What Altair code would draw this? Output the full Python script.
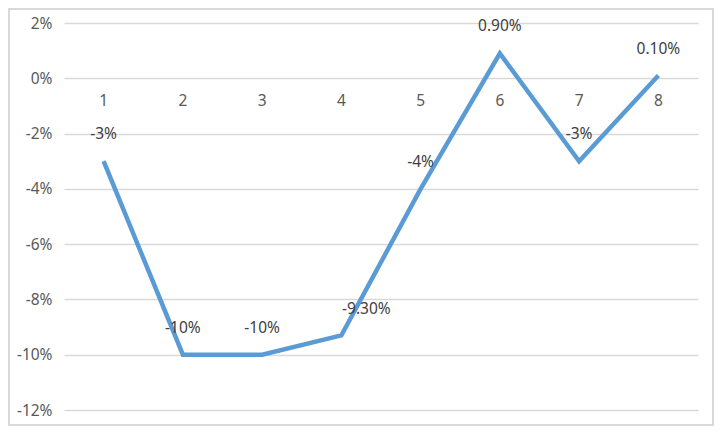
import altair as alt
import pandas as pd

categories = ["1", "2", "3", "4", "5", "6", "7", "8"]
values = [-3.0, -10.0, -10.0, -9.3, -4.0, 0.9, -3.0, 0.1]
labels = ["-3%", "-10%", "-10%", "-9.30%", "-4%", "0.90%", "-3%", "0.10%"]
y_ticks = [-12, -10, -8, -6, -4, -2, 0, 2]

df = pd.DataFrame({"cat": categories, "val": values, "lab": labels, "zero": [0] * len(categories)})

FONT = "Noto Sans"
FS = 15.5
W, H = 634, 387

x_enc = alt.X("cat:N", sort=categories, axis=None, scale=alt.Scale(paddingInner=0, paddingOuter=0, align=0.5))
y_scale = alt.Scale(domain=[-12, 2], nice=False, zero=False)
y_axis = alt.Axis(values=y_ticks, labelExpr="datum.value + '%'", domain=False, ticks=False,
                  grid=True, gridColor="#D9D9D9", gridWidth=1.5, labelPadding=12,
                  labelFont=FONT, labelFontSize=FS, labelColor="#595959", title=None)

base = alt.Chart(df)

line = base.mark_line(color="#5B9BD5", strokeWidth=4.5, strokeJoin="miter").encode(
    x=x_enc,
    y=alt.Y("val:Q", scale=y_scale, axis=y_axis),
)

cat_labels = base.mark_text(font=FONT, fontSize=FS, color="#595959", dy=23).encode(
    x=x_enc, y=alt.Y("zero:Q", scale=y_scale, axis=y_axis), text="cat:N"
)

data_labels = base.transform_filter("datum.cat != '4'").mark_text(
    font=FONT, fontSize=FS, color="#404040", dy=-27
).encode(x=x_enc, y=alt.Y("val:Q", scale=y_scale, axis=y_axis), text="lab:N")

data_label4 = base.transform_filter("datum.cat == '4'").mark_text(
    font=FONT, fontSize=FS, color="#404040", dy=-26, dx=25
).encode(x=x_enc, y=alt.Y("val:Q", scale=y_scale, axis=y_axis), text="lab:N")

border = alt.Chart(pd.DataFrame({"a": [0]})).mark_rect(
    fill="transparent", stroke="#D9D9D9", strokeWidth=2
).encode(x=alt.value(-55), x2=alt.value(W + 15), y=alt.value(-14), y2=alt.value(H + 15))

chart = alt.layer(line, cat_labels, data_labels, data_label4, border).properties(
    width=W, height=H, autosize=alt.AutoSizeParams(type="none"),
    padding={"left": 56, "top": 15, "right": 16, "bottom": 16},
    background="white",
).configure_view(strokeWidth=0, stroke="transparent")

chart.save("out.html", embed_options={"renderer": "svg", "actions": False})
